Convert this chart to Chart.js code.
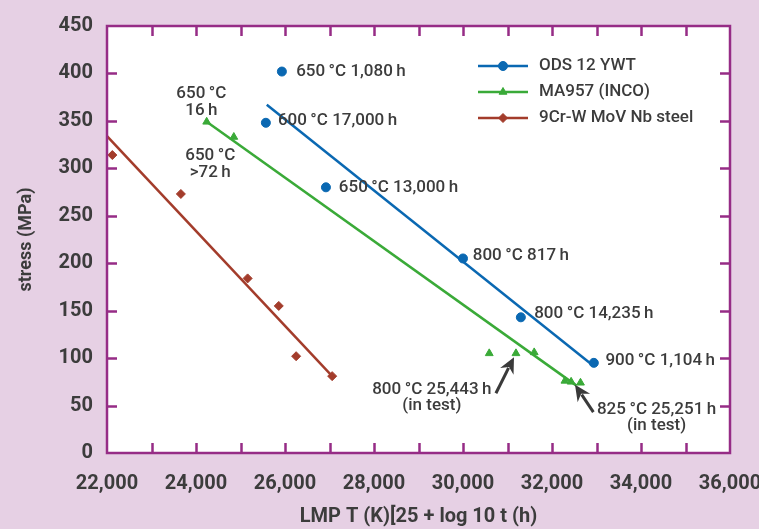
<!DOCTYPE html>
<html>
<head>
<meta charset="utf-8">
<script src="https://cdn.jsdelivr.net/npm/chart.js@4.4.1/dist/chart.umd.min.js"></script>
<style>
  html, body { margin: 0; padding: 0; background: #e6d0e4; }
  #wrap { width: 759px; height: 529px; position: relative; }
</style>
</head>
<body>
<div id="wrap"><canvas id="c" width="759" height="529"></canvas></div>
<script>
// ---- data ----
const seriesNames = ['ODS 12 YWT', 'MA957 (INCO)', '9Cr-W MoV Nb steel'];

const odsX = [25930, 25570, 26920, 30000, 31300, 32940];
const odsY = [402, 348, 280, 205, 143, 95];
const odsFitX = [25590, 32900];
const odsFitY = [367, 93];

const maX = [24240, 24850, 30590, 31190, 31600, 32290, 32430, 32640];
const maY = [349, 333, 105, 105, 106, 76, 75, 74];
const maFitX = [24240, 32550];
const maFitY = [349, 71];

const crX = [22120, 23660, 25160, 25860, 26250, 27060];
const crY = [314, 273, 184, 155, 102, 81];
const crFitX = [22000, 27060];
const crFitY = [334, 81];

const xTickLabels = ['22,000', '24,000', '26,000', '28,000', '30,000', '32,000', '34,000', '36,000'];
const yTickLabels = ['0', '50', '100', '150', '200', '250', '300', '350', '400', '450'];

// annotation labels (data coordinates)
const T = '\u2009';
const labelTexts = [
  '650' + T + '°C 1,080' + T + 'h', '600' + T + '°C 17,000' + T + 'h', '650' + T + '°C 13,000' + T + 'h',
  '800' + T + '°C 817' + T + 'h', '800' + T + '°C 14,235' + T + 'h', '900' + T + '°C 1,104' + T + 'h'
];
const labelX = [26250, 25840, 27210, 30220, 31600, 33200];
const labelY = [402, 350, 280, 208, 146.5, 97];

const centredTexts = ['650' + T + '°C', '16' + T + 'h', '650' + T + '°C', '>72' + T + 'h',
  '800' + T + '°C 25,443' + T + 'h', '(in test)', '825' + T + '°C 25,251' + T + 'h', '(in test)'];
const centredX = [24120, 24120, 24320, 24320, 29300, 29300, 34350, 34350];
const centredY = [379, 360.5, 313.5, 295.5, 67, 50, 45.6, 29];

const arrowFromX = [30740, 32930];
const arrowFromY = [63, 43];
const arrowToX = [31146, 32517];
const arrowToY = [101, 72];

const BLUE = '#0a68b2';
const GREEN = '#3aaa38';
const BROWN = '#a33c2b';
const FRAME = '#962c86';
const TEXT = '#3c3c3c';
const FONT = 'Roboto, "DejaVu Sans", sans-serif';

function pts(xs, ys) { return xs.map((x, i) => ({ x: x, y: ys[i] })); }

const bgPlugin = {
  id: 'bg',
  beforeDraw(chart) {
    const { ctx, chartArea: a } = chart;
    ctx.save();
    ctx.fillStyle = '#e6d0e4';
    ctx.fillRect(0, 0, chart.width, chart.height);
    ctx.fillStyle = '#ffffff';
    ctx.fillRect(a.left, a.top, a.right - a.left, a.bottom - a.top);
    ctx.restore();
  }
};

const decoPlugin = {
  id: 'deco',
  afterDraw(chart) {
    const { ctx, chartArea: a } = chart;
    const xs = chart.scales.x, ys = chart.scales.y;
    ctx.save();
    // frame ticks
    ctx.strokeStyle = FRAME;
    ctx.lineWidth = 2.5;
    const tl = 10;
    ctx.beginPath();
    for (let v = 23000; v < 36000; v += 1000) {
      const px = Math.round(xs.getPixelForValue(v)) + 0.5;
      ctx.moveTo(px, a.bottom); ctx.lineTo(px, a.bottom - tl);
      ctx.moveTo(px, a.top); ctx.lineTo(px, a.top + tl);
    }
    for (let v = 50; v < 450; v += 50) {
      const py = Math.round(ys.getPixelForValue(v)) + 0.5;
      ctx.moveTo(a.left, py); ctx.lineTo(a.left + tl, py);
      ctx.moveTo(a.right, py); ctx.lineTo(a.right - tl, py);
    }
    ctx.stroke();
    ctx.lineWidth = 2.5;
    ctx.strokeRect(a.left, a.top, a.right - a.left, a.bottom - a.top);

    // text annotations
    ctx.fillStyle = TEXT;
    ctx.font = '500 17px ' + FONT;
    ctx.textBaseline = 'middle';
    ctx.textAlign = 'left';
    labelTexts.forEach((t, i) => {
      ctx.fillText(t, xs.getPixelForValue(labelX[i]), ys.getPixelForValue(labelY[i]));
    });
    ctx.textAlign = 'center';
    centredTexts.forEach((t, i) => {
      ctx.fillText(t, xs.getPixelForValue(centredX[i]), ys.getPixelForValue(centredY[i]));
    });

    // arrows
    ctx.strokeStyle = '#3a3a3a';
    ctx.fillStyle = '#3a3a3a';
    ctx.lineWidth = 3;
    arrowFromX.forEach((fx, i) => {
      const x0 = xs.getPixelForValue(fx), y0 = ys.getPixelForValue(arrowFromY[i]);
      const x1 = xs.getPixelForValue(arrowToX[i]), y1 = ys.getPixelForValue(arrowToY[i]);
      const ang = Math.atan2(y1 - y0, x1 - x0);
      const hl = 16, hw = 7.5;
      const bx = x1 - hl * Math.cos(ang), by = y1 - hl * Math.sin(ang);
      ctx.beginPath();
      ctx.moveTo(x0, y0); ctx.lineTo(bx + 4 * Math.cos(ang), by + 4 * Math.sin(ang));
      ctx.stroke();
      ctx.beginPath();
      ctx.moveTo(x1, y1);
      ctx.lineTo(bx + hw * Math.sin(ang), by - hw * Math.cos(ang));
      ctx.lineTo(bx + 5 * Math.cos(ang), by + 5 * Math.sin(ang));
      ctx.lineTo(bx - hw * Math.sin(ang), by + hw * Math.cos(ang));
      ctx.closePath();
      ctx.fill();
    });

    // legend
    const ds = chart.data.datasets;
    const rows = [0, 2, 4];
    const lx0 = a.left + 371, lx1 = a.left + 421, tx = a.left + 432;
    ctx.font = '500 17px ' + FONT;
    ctx.textAlign = 'left';
    rows.forEach((di, r) => {
      const d = ds[di];
      const y = a.top + 40 + r * 26;
      ctx.strokeStyle = d.borderColor;
      ctx.lineWidth = 2.5;
      ctx.beginPath(); ctx.moveTo(lx0, y); ctx.lineTo(lx1, y); ctx.stroke();
      ctx.fillStyle = d.backgroundColor;
      ctx.strokeStyle = d.backgroundColor;
      ctx.lineWidth = 1;
      Chart.helpers.drawPoint(ctx, { pointStyle: d.pointStyle, radius: d.pointRadius, borderWidth: 1, rotation: 0 }, (lx0 + lx1) / 2, y);
      ctx.fillStyle = TEXT;
      ctx.fillText(seriesNames[r], tx, y);
    });
    ctx.restore();
  }
};

new Chart(document.getElementById('c'), {
  type: 'scatter',
  data: {
    datasets: [
      { label: seriesNames[0], data: pts(odsX, odsY), pointStyle: 'circle', pointRadius: 4.5, backgroundColor: BLUE, borderColor: BLUE, borderWidth: 1, showLine: false },
      { label: seriesNames[0] + ' fit', data: pts(odsFitX, odsFitY), showLine: true, pointRadius: 0, borderColor: BLUE, borderWidth: 2.5 },
      { label: seriesNames[1], data: pts(maX, maY), pointStyle: 'triangle', pointRadius: 4.5, backgroundColor: GREEN, borderColor: GREEN, borderWidth: 1, showLine: false },
      { label: seriesNames[1] + ' fit', data: pts(maFitX, maFitY), showLine: true, pointRadius: 0, borderColor: GREEN, borderWidth: 2.5 },
      { label: seriesNames[2], data: pts(crX, crY), pointStyle: 'rectRot', pointRadius: 4.5, backgroundColor: BROWN, borderColor: BROWN, borderWidth: 1, showLine: false },
      { label: seriesNames[2] + ' fit', data: pts(crFitX, crFitY), showLine: true, pointRadius: 0, borderColor: BROWN, borderWidth: 2.5 }
    ]
  },
  options: {
    responsive: false,
    animation: false,
    layout: { padding: { left: 0, right: 29, top: 22, bottom: 0 } },
    plugins: { legend: { display: false }, tooltip: { enabled: false } },
    scales: {
      x: {
        type: 'linear', min: 22000, max: 36000,
        grid: { display: false, drawTicks: false },
        border: { display: false },
        afterFit(s) { s.height = 76; s.paddingRight = 0; s.paddingLeft = 0; },
        ticks: {
          stepSize: 2000, padding: 19, color: TEXT, maxRotation: 0, autoSkip: false,
          font: { family: FONT, size: 20, weight: 'bold' },
          callback(v) { const i = Math.round((v - 22000) / 2000); return (v - 22000) % 2000 === 0 ? xTickLabels[i] : ''; }
        },
        title: { display: true, text: 'LMP T (K)[25 + log 10 t (h)', color: TEXT, padding: { top: 8, bottom: 0 },
          font: { family: FONT, size: 20, weight: 'bold' } }
      },
      y: {
        type: 'linear', min: 0, max: 450,
        grid: { display: false, drawTicks: false },
        border: { display: false },
        afterFit(s) { s.width = 107; },
        ticks: {
          stepSize: 50, padding: 14, color: TEXT,
          font: { family: FONT, size: 20, weight: 'bold' },
          callback(v) { return yTickLabels[Math.round(v / 50)]; }
        },
        title: { display: true, text: 'stress (MPa)', color: TEXT, padding: { top: 16, bottom: 0 },
          font: { family: FONT, size: 18, weight: 'bold' } }
      }
    }
  },
  plugins: [bgPlugin, decoPlugin]
});
</script>
</body>
</html>
